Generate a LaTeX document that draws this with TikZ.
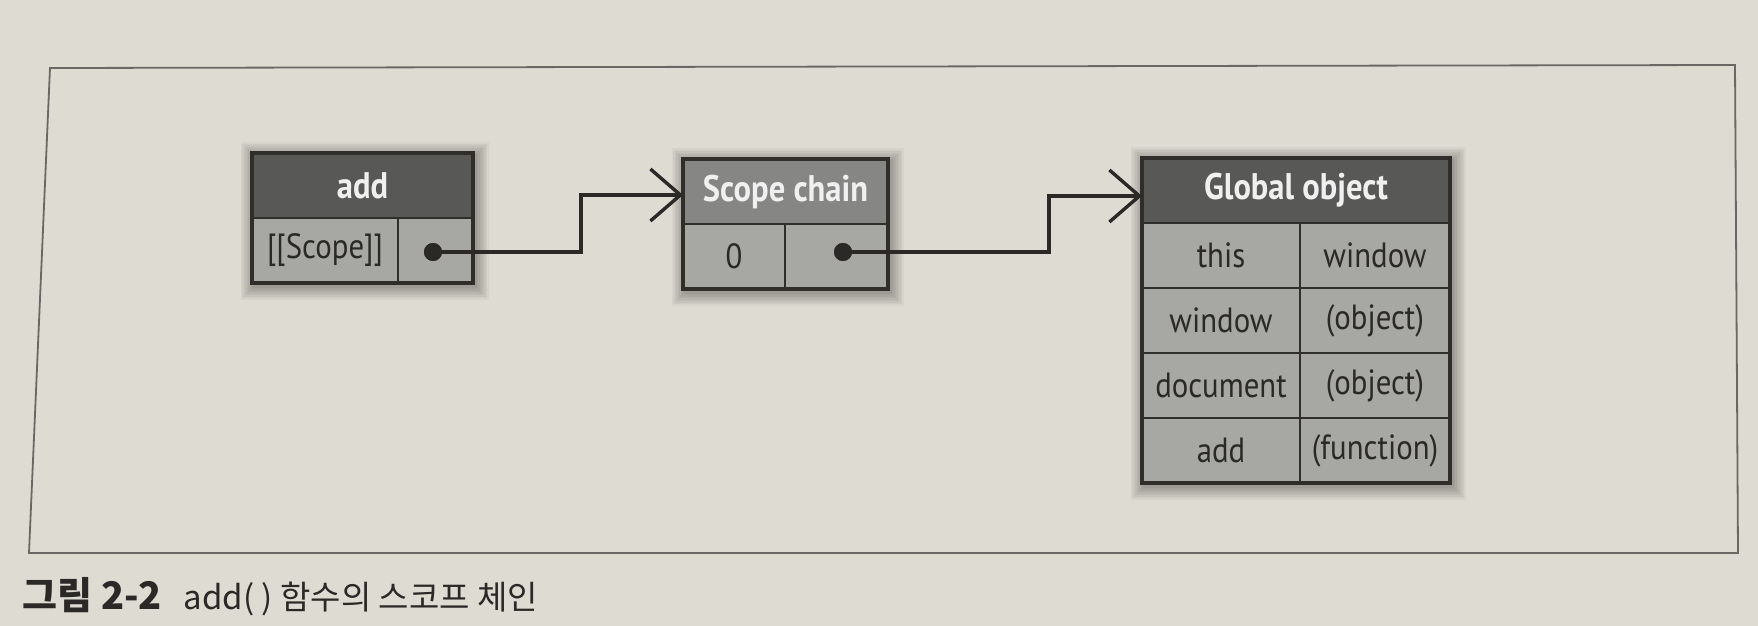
\documentclass[tikz,border=0pt]{standalone}
\usepackage{fontspec}
\setmainfont{PT Sans}[FakeStretch=0.88]
\newfontfamily\krfont{Noto Sans CJK KR}
\usetikzlibrary{arrows.meta,calc}
\definecolor{paper}{HTML}{DEDBD3}
\definecolor{framecol}{HTML}{6A6864}
\definecolor{titledark}{HTML}{585957}
\definecolor{titlemid}{HTML}{868685}
\definecolor{cellgray}{HTML}{A7A7A4}
\definecolor{ink}{HTML}{2A2927}
\definecolor{edge}{HTML}{2F2E2B}
\newcommand{\softshadow}[4]{\foreach \i in {1,...,9}{\fill[black,opacity=0.035] ({#1-\i*1.5+2},{#2-\i*1.5+3}) rectangle ({#3+\i*1.5+2},{#4+\i*1.5+3});}}
\begin{document}
\begin{tikzpicture}[x=0.5pt,y=-0.5pt,
  cell/.style={draw=edge, line width=1.1pt, fill=cellgray, inner sep=0pt, outer sep=0pt,
    anchor=north west, text=ink, font=\fontsize{17.5}{20}\selectfont},
  titlecell/.style={cell, fill=titledark, text=white!94!black, font=\bfseries\fontsize{18.5}{21}\selectfont},
  outerbox/.style={draw=edge, line width=1.9pt},
  conn/.style={draw=ink, line width=1.6pt},
  arr/.style={conn, -{Straight Barb[length=15pt,width=26pt,line width=1.7pt]}},
  dotnode/.style={circle, fill=ink, minimum size=9pt, inner sep=0pt},
  frameline/.style={draw=framecol, line width=0.9pt},
]
\useasboundingbox (0,0) rectangle (1758,626);
\fill[paper] (0,0) rectangle (1758,626);
\draw[frameline] (50,68) -- (1735,65) -- (1738,553) -- (29,553) -- cycle;

% shadows
\softshadow{252}{153}{473}{283}
\softshadow{683}{159}{888}{289}
\softshadow{1142}{158}{1450}{483}

% add
\node[titlecell, minimum width=110.5pt, minimum height=32.5pt] (add-title) at (252,153) {add};
\node[cell, minimum width=73pt, minimum height=32.5pt] (add-key) at (252,218) {[[Scope]]};
\node[cell, minimum width=37.5pt, minimum height=32.5pt] (add-ptr) at (398,218) {};
\draw[outerbox] (add-title.north west) rectangle (add-ptr.south east);

% scope chain
\node[titlecell, fill=titlemid, minimum width=102.5pt, minimum height=32.5pt] (sc-title) at (683,159) {Scope chain};
\node[cell, minimum width=51pt, minimum height=32.5pt] (sc-key) at (683,224) {0};
\node[cell, minimum width=51.5pt, minimum height=32.5pt] (sc-ptr) at (785,224) {};
\draw[outerbox] (sc-title.north west) rectangle (sc-ptr.south east);

% global object
\node[titlecell, minimum width=154pt, minimum height=32.5pt] (go-title) at (1142,158) {Global object};
\node[cell, minimum width=79pt, minimum height=32.5pt] (go-k1) at (1142,223) {this};
\node[cell, minimum width=75pt, minimum height=32.5pt] (go-v1) at (1300,223) {window};
\node[cell, minimum width=79pt, minimum height=32.5pt] (go-k2) at (1142,288) {window};
\node[cell, minimum width=75pt, minimum height=32.5pt] (go-v2) at (1300,288) {(object)};
\node[cell, minimum width=79pt, minimum height=32.5pt] (go-k3) at (1142,353) {document};
\node[cell, minimum width=75pt, minimum height=32.5pt] (go-v3) at (1300,353) {(object)};
\node[cell, minimum width=79pt, minimum height=32.5pt] (go-k4) at (1142,418) {add};
\node[cell, minimum width=75pt, minimum height=32.5pt] (go-v4) at (1300,418) {(function)};
\draw[outerbox] (go-title.north west) rectangle (go-v4.south east);

% pointers
\node[dotnode] (add-dot) at (433,252) {};
\node[dotnode] (sc-dot) at (843,252) {};
\coordinate (bend1) at (581,195);
\coordinate (bend2) at (1049,196);
\draw[arr] (add-dot.center) -| (bend1) -- (bend1 -| sc-title.west);
\draw[arr] (sc-dot.center) -| (bend2) -- (bend2 -| go-title.west);
\node[dotnode] at (add-dot) {};
\node[dotnode] at (sc-dot) {};

% caption
\node[anchor=west, inner sep=0pt, text=ink, font=\krfont\fontsize{16.5}{20}\selectfont] (caption) at (22,597)
  {{\bfseries\fontsize{19}{22}\selectfont 그림 2-2}\hspace{11pt}add( ) 함수의 스코프 체인};
\end{tikzpicture}
\end{document}
